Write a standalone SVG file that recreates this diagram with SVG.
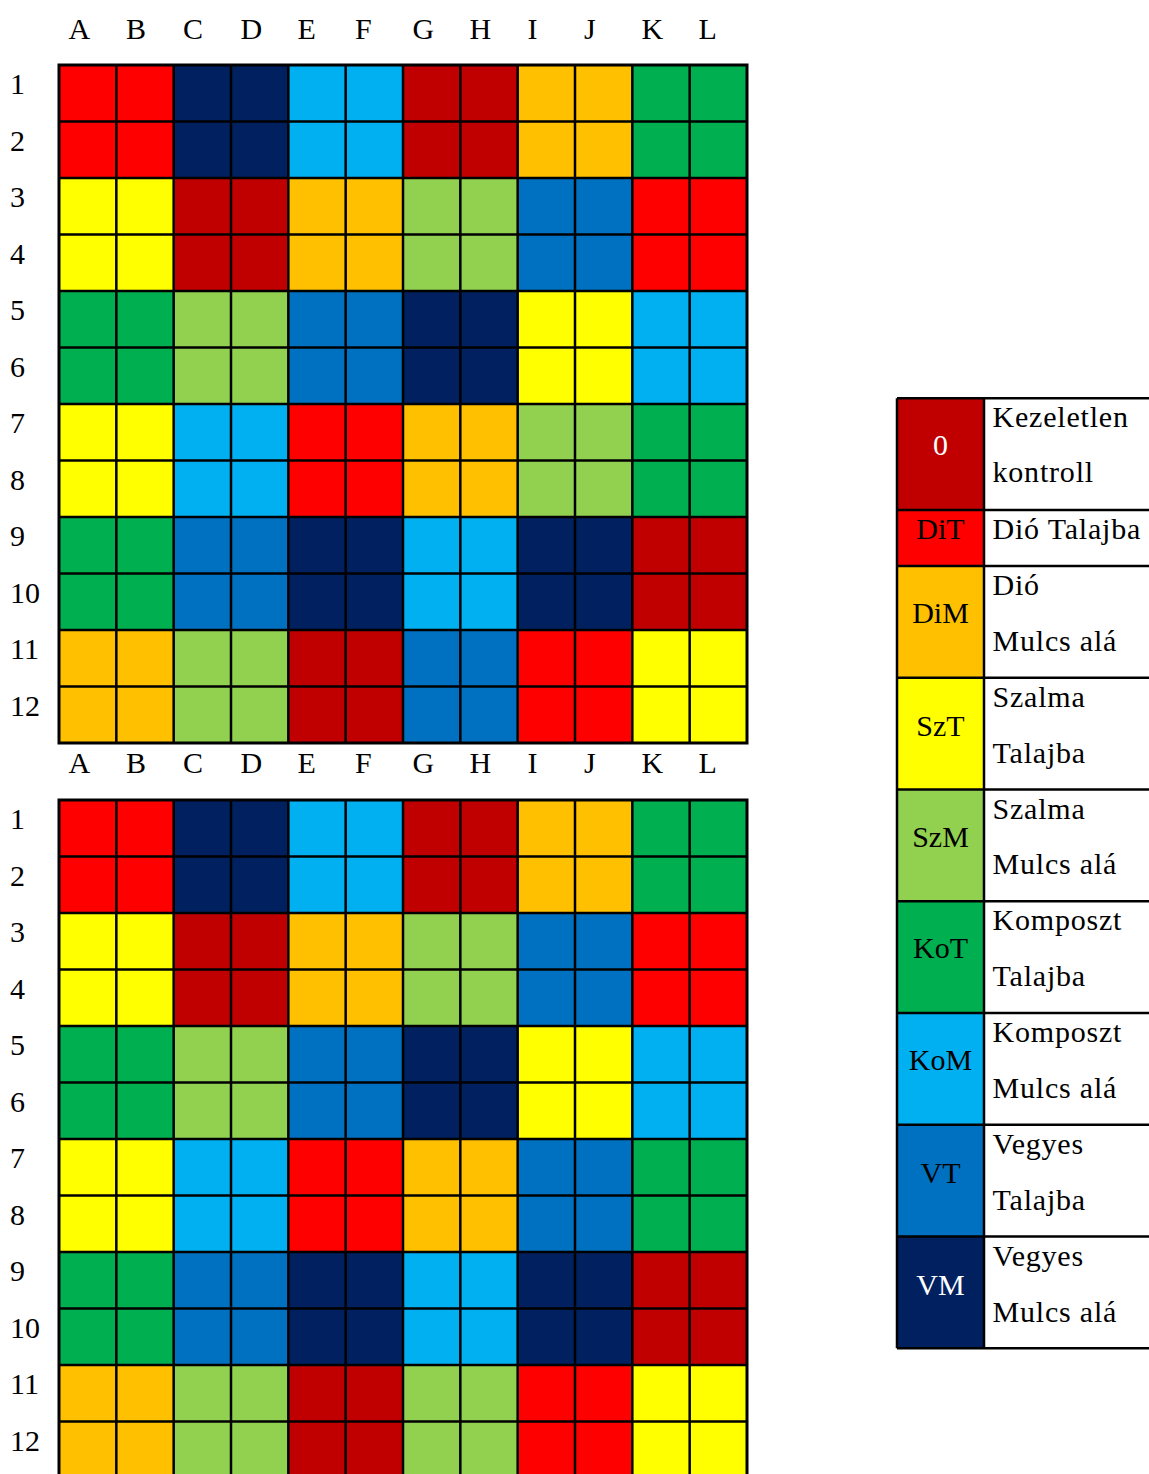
<svg xmlns="http://www.w3.org/2000/svg" width="1149" height="1474" viewBox="0 0 1149 1474">
<style>
text{font-family:"Liberation Serif","Times New Roman",serif;font-size:30px;fill:#000}
.t0{fill:#C00000}.dit{fill:#FF0000}.dim{fill:#FFC000}.szt{fill:#FFFF00}.szm{fill:#92D050}.kot{fill:#00B050}.kom{fill:#00B0F0}.vt{fill:#0070C0}.vm{fill:#002060}
.gl{fill:none;stroke:#000;stroke-width:2.5}
.ob{fill:none;stroke:#000;stroke-width:3}
.code{text-anchor:middle}
.w{fill:#FFFFFF}
.desc{letter-spacing:0.8px}
</style>
<defs>
<path id="grid" class="gl" d="M116.33 0V678M173.67 0V678M231 0V678M288.33 0V678M345.67 0V678M403 0V678M460.33 0V678M517.67 0V678M575 0V678M632.33 0V678M689.67 0V678M59 56.5H747M59 113H747M59 169.5H747M59 226H747M59 282.5H747M59 339H747M59 395.5H747M59 452H747M59 508.5H747M59 565H747M59 621.5H747"/>
<g id="collabels">
<text x="68.5" y="0">A</text><text x="126" y="0">B</text><text x="183" y="0">C</text><text x="240.5" y="0">D</text><text x="297.5" y="0">E</text><text x="355" y="0">F</text><text x="412.5" y="0">G</text><text x="469.5" y="0">H</text><text x="527.5" y="0">I</text><text x="584" y="0">J</text><text x="641.5" y="0">K</text><text x="698.5" y="0">L</text>
</g>
<g id="rowlabels">
<text x="10" y="29">1</text><text x="10" y="85.5">2</text><text x="10" y="142">3</text><text x="10" y="198.5">4</text><text x="10" y="255">5</text><text x="10" y="311.5">6</text><text x="10" y="368">7</text><text x="10" y="424.5">8</text><text x="10" y="481">9</text><text x="10" y="537.5">10</text><text x="10" y="594">11</text><text x="10" y="650.5">12</text>
</g>
</defs>

<g id="field1">
<use href="#collabels" transform="translate(0,38.5)"/>
<use href="#rowlabels" transform="translate(0,65)"/>
<g id="field1-plots">
<rect class="dit" x="59" y="65" width="114.67" height="113"/><rect class="vm" x="173.67" y="65" width="114.67" height="113"/><rect class="kom" x="288.33" y="65" width="114.67" height="113"/><rect class="t0" x="403" y="65" width="114.67" height="113"/><rect class="dim" x="517.67" y="65" width="114.67" height="113"/><rect class="kot" x="632.33" y="65" width="114.67" height="113"/>
<rect class="szt" x="59" y="178" width="114.67" height="113"/><rect class="t0" x="173.67" y="178" width="114.67" height="113"/><rect class="dim" x="288.33" y="178" width="114.67" height="113"/><rect class="szm" x="403" y="178" width="114.67" height="113"/><rect class="vt" x="517.67" y="178" width="114.67" height="113"/><rect class="dit" x="632.33" y="178" width="114.67" height="113"/>
<rect class="kot" x="59" y="291" width="114.67" height="113"/><rect class="szm" x="173.67" y="291" width="114.67" height="113"/><rect class="vt" x="288.33" y="291" width="114.67" height="113"/><rect class="vm" x="403" y="291" width="114.67" height="113"/><rect class="szt" x="517.67" y="291" width="114.67" height="113"/><rect class="kom" x="632.33" y="291" width="114.67" height="113"/>
<rect class="szt" x="59" y="404" width="114.67" height="113"/><rect class="kom" x="173.67" y="404" width="114.67" height="113"/><rect class="dit" x="288.33" y="404" width="114.67" height="113"/><rect class="dim" x="403" y="404" width="114.67" height="113"/><rect class="szm" x="517.67" y="404" width="114.67" height="113"/><rect class="kot" x="632.33" y="404" width="114.67" height="113"/>
<rect class="kot" x="59" y="517" width="114.67" height="113"/><rect class="vt" x="173.67" y="517" width="114.67" height="113"/><rect class="vm" x="288.33" y="517" width="114.67" height="113"/><rect class="kom" x="403" y="517" width="114.67" height="113"/><rect class="vm" x="517.67" y="517" width="114.67" height="113"/><rect class="t0" x="632.33" y="517" width="114.67" height="113"/>
<rect class="dim" x="59" y="630" width="114.67" height="113"/><rect class="szm" x="173.67" y="630" width="114.67" height="113"/><rect class="t0" x="288.33" y="630" width="114.67" height="113"/><rect class="vt" x="403" y="630" width="114.67" height="113"/><rect class="dit" x="517.67" y="630" width="114.67" height="113"/><rect class="szt" x="632.33" y="630" width="114.67" height="113"/>
</g>
<use href="#grid" transform="translate(0,65)"/>
<rect class="ob" x="59" y="65" width="688" height="678"/>
</g>

<g id="field2">
<use href="#collabels" transform="translate(0,773)"/>
<use href="#rowlabels" transform="translate(0,800)"/>
<g id="field2-plots">
<rect class="dit" x="59" y="800" width="114.67" height="113"/><rect class="vm" x="173.67" y="800" width="114.67" height="113"/><rect class="kom" x="288.33" y="800" width="114.67" height="113"/><rect class="t0" x="403" y="800" width="114.67" height="113"/><rect class="dim" x="517.67" y="800" width="114.67" height="113"/><rect class="kot" x="632.33" y="800" width="114.67" height="113"/>
<rect class="szt" x="59" y="913" width="114.67" height="113"/><rect class="t0" x="173.67" y="913" width="114.67" height="113"/><rect class="dim" x="288.33" y="913" width="114.67" height="113"/><rect class="szm" x="403" y="913" width="114.67" height="113"/><rect class="vt" x="517.67" y="913" width="114.67" height="113"/><rect class="dit" x="632.33" y="913" width="114.67" height="113"/>
<rect class="kot" x="59" y="1026" width="114.67" height="113"/><rect class="szm" x="173.67" y="1026" width="114.67" height="113"/><rect class="vt" x="288.33" y="1026" width="114.67" height="113"/><rect class="vm" x="403" y="1026" width="114.67" height="113"/><rect class="szt" x="517.67" y="1026" width="114.67" height="113"/><rect class="kom" x="632.33" y="1026" width="114.67" height="113"/>
<rect class="szt" x="59" y="1139" width="114.67" height="113"/><rect class="kom" x="173.67" y="1139" width="114.67" height="113"/><rect class="dit" x="288.33" y="1139" width="114.67" height="113"/><rect class="dim" x="403" y="1139" width="114.67" height="113"/><rect class="vt" x="517.67" y="1139" width="114.67" height="113"/><rect class="kot" x="632.33" y="1139" width="114.67" height="113"/>
<rect class="kot" x="59" y="1252" width="114.67" height="113"/><rect class="vt" x="173.67" y="1252" width="114.67" height="113"/><rect class="vm" x="288.33" y="1252" width="114.67" height="113"/><rect class="kom" x="403" y="1252" width="114.67" height="113"/><rect class="vm" x="517.67" y="1252" width="114.67" height="113"/><rect class="t0" x="632.33" y="1252" width="114.67" height="113"/>
<rect class="dim" x="59" y="1365" width="114.67" height="113"/><rect class="szm" x="173.67" y="1365" width="114.67" height="113"/><rect class="t0" x="288.33" y="1365" width="114.67" height="113"/><rect class="szm" x="403" y="1365" width="114.67" height="113"/><rect class="dit" x="517.67" y="1365" width="114.67" height="113"/><rect class="szt" x="632.33" y="1365" width="114.67" height="113"/>
</g>
<use href="#grid" transform="translate(0,800)"/>
<rect class="ob" x="59" y="800" width="688" height="678"/>
</g>

<g id="legend">
<g id="leg-0"><rect class="t0" x="897" y="398.3" width="87" height="111.8"/><text class="code w" x="940.5" y="455">0</text><text class="desc" x="992.5" y="427.3">Kezeletlen</text><text class="desc" x="992.5" y="482">kontroll</text></g>
<g id="leg-dit"><rect class="dit" x="897" y="510.1" width="87" height="55.9"/><text class="code" x="940.5" y="539.3">DiT</text><text class="desc" x="992.5" y="539.3">Dió Talajba</text></g>
<g id="leg-dim"><rect class="dim" x="897" y="566" width="87" height="111.7"/><text class="code" x="940.5" y="623.3">DiM</text><text class="desc" x="992.5" y="595">Dió</text><text class="desc" x="992.5" y="650.7">Mulcs alá</text></g>
<g id="leg-szt"><rect class="szt" x="897" y="677.7" width="87" height="111.8"/><text class="code" x="940.5" y="735.7">SzT</text><text class="desc" x="992.5" y="706.7">Szalma</text><text class="desc" x="992.5" y="762.7">Talajba</text></g>
<g id="leg-szm"><rect class="szm" x="897" y="789.5" width="87" height="111.7"/><text class="code" x="940.5" y="847">SzM</text><text class="desc" x="992.5" y="818.5">Szalma</text><text class="desc" x="992.5" y="874.3">Mulcs alá</text></g>
<g id="leg-kot"><rect class="kot" x="897" y="901.2" width="87" height="111.8"/><text class="code" x="940.5" y="958.3">KoT</text><text class="desc" x="992.5" y="930.3">Komposzt</text><text class="desc" x="992.5" y="986">Talajba</text></g>
<g id="leg-kom"><rect class="kom" x="897" y="1013" width="87" height="111.7"/><text class="code" x="940.5" y="1070">KoM</text><text class="desc" x="992.5" y="1042">Komposzt</text><text class="desc" x="992.5" y="1097.7">Mulcs alá</text></g>
<g id="leg-vt"><rect class="vt" x="897" y="1124.7" width="87" height="111.8"/><text class="code" x="940.5" y="1183.3">VT</text><text class="desc" x="992.5" y="1153.7">Vegyes</text><text class="desc" x="992.5" y="1209.7">Talajba</text></g>
<g id="leg-vm"><rect class="vm" x="897" y="1236.5" width="87" height="111.8"/><text class="code w" x="940.5" y="1295">VM</text><text class="desc" x="992.5" y="1265.5">Vegyes</text><text class="desc" x="992.5" y="1321.5">Mulcs alá</text></g>
<path class="gl" d="M897 398.3H1149M897 510.1H1149M897 566H1149M897 677.7H1149M897 789.5H1149M897 901.2H1149M897 1013H1149M897 1124.7H1149M897 1236.5H1149M897 1348.3H1149M897 398.3V1348.3M984 398.3V1348.3"/>
</g>
</svg>
